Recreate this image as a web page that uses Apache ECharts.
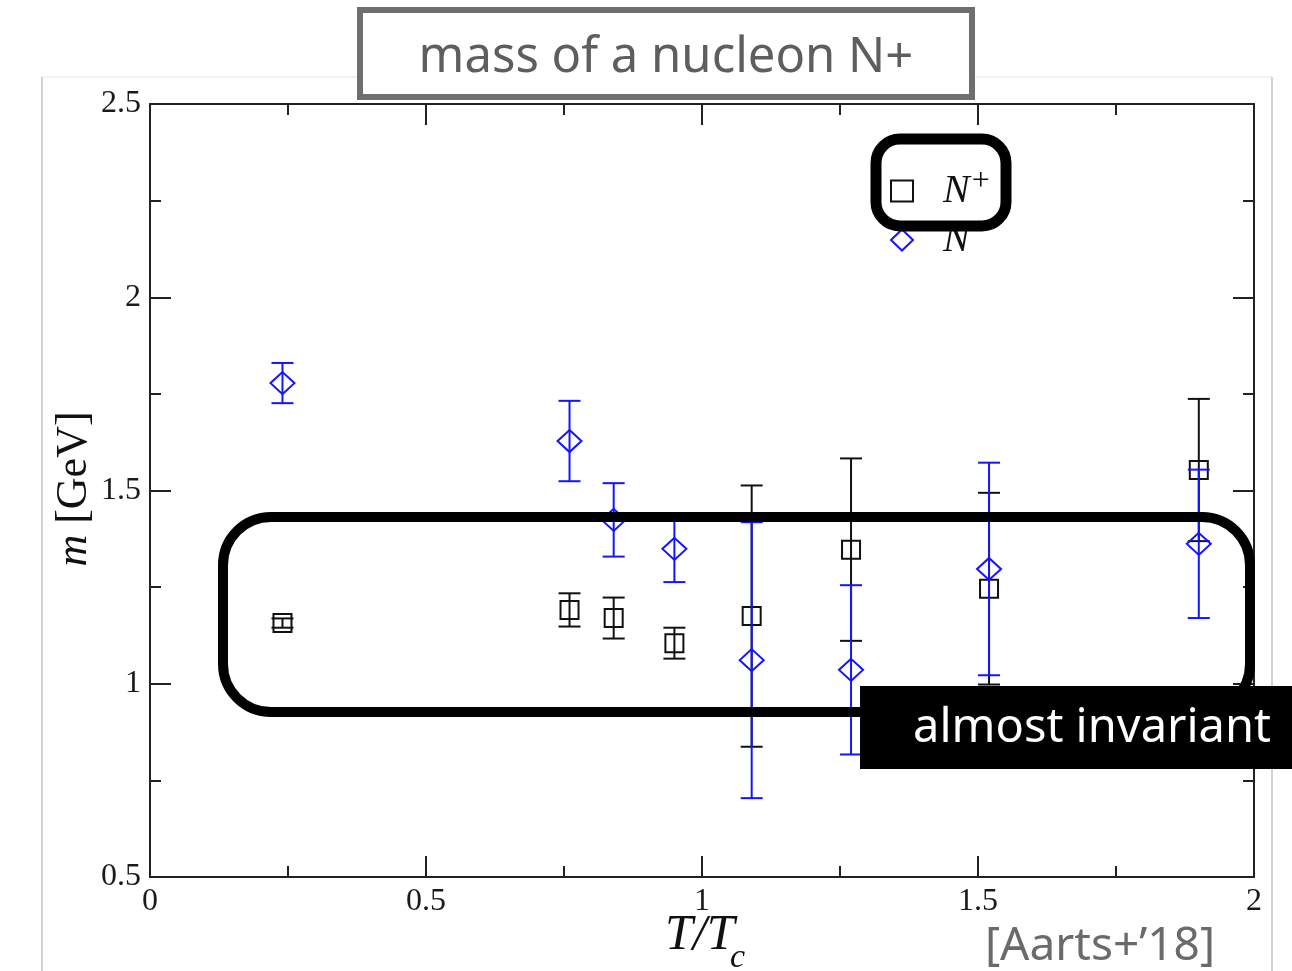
<!DOCTYPE html>
<html>
<head>
<meta charset="utf-8">
<script src="https://cdn.jsdelivr.net/npm/echarts@6/dist/echarts.min.js"></script>
<style>
  html, body { margin: 0; padding: 0; background: #fff; }
  #chart { width: 1292px; height: 971px; }
</style>
</head>
<body>
<div id="chart"></div>
<script>
// T/Tc of each lattice point
var temps = [0.24, 0.76, 0.84, 0.95, 1.09, 1.27, 1.52, 1.90];
// N+ (positive parity) mass and error, GeV
var plusMass = [1.157, 1.191, 1.170, 1.105, 1.175, 1.347, 1.246, 1.553];
var plusErr = [0.012, 0.043, 0.053, 0.040, 0.338, 0.236, 0.248, 0.184];
// N- (negative parity) mass and error, GeV
var minusMass = [1.778, 1.628, 1.424, 1.349, 1.061, 1.036, 1.297, 1.362];
var minusErr = [0.052, 0.104, 0.095, 0.086, 0.357, 0.219, 0.275, 0.192];

var BLUE = '#1414ff';
var SERIF = '"Liberation Serif", "DejaVu Serif", serif';
var SANS = '"Noto Sans", "Open Sans", sans-serif';

function points(mass) {
    return temps.map(function (t, i) { return [t, mass[i]]; });
}
function bars(mass, err) {
    return temps.map(function (t, i) { return [t, mass[i] - err[i], mass[i] + err[i]]; });
}

function errorBar(color) {
    return function (params, api) {
        var x = api.value(0);
        var top = api.coord([x, api.value(2)]);
        var bot = api.coord([x, api.value(1)]);
        var hw = 11;
        var st = { stroke: color, lineWidth: 2 };
        return {
            type: 'group',
            children: [
                { type: 'line', shape: { x1: top[0], y1: top[1], x2: bot[0], y2: bot[1] }, style: st },
                { type: 'line', shape: { x1: top[0] - hw, y1: top[1], x2: top[0] + hw, y2: top[1] }, style: st },
                { type: 'line', shape: { x1: bot[0] - hw, y1: bot[1], x2: bot[0] + hw, y2: bot[1] }, style: st }
            ]
        };
    };
}

function axis(pos, min, max, showLabel) {
    return {
        type: 'value',
        position: pos,
        min: min,
        max: max,
        interval: 0.5,
        splitLine: { show: false },
        axisLine: { show: true, onZero: false, lineStyle: { color: '#222', width: 2 } },
        axisTick: { show: true, inside: true, length: 21, lineStyle: { color: '#222', width: 2 } },
        minorTick: { show: true, splitNumber: 2, length: 11, lineStyle: { color: '#222', width: 2 } },
        axisLabel: {
            show: showLabel,
            margin: 9,
            color: '#1a1a1a',
            fontFamily: SERIF,
            fontSize: 32
        }
    };
}

var myChart = echarts.init(document.getElementById('chart'));

var option = {
    animation: false,
    backgroundColor: '#fff',
    grid: { left: 150, right: 38, top: 104, bottom: 94 },
    xAxis: [axis('bottom', 0, 2, true), axis('top', 0, 2, false)],
    yAxis: [axis('left', 0.5, 2.5, true), axis('right', 0.5, 2.5, false)],
    legend: {
        data: ['N+', 'N-'],
        orient: 'vertical',
        left: 885,
        top: 161,
        itemGap: 4,
        itemWidth: 22,
        itemHeight: 21,
        formatter: function (name) {
            return '{n|N}{s|' + (name === 'N+' ? '+' : '\u2212') + '}';
        },
        textStyle: {
            rich: {
                n: { fontFamily: SERIF, fontStyle: 'italic', fontSize: 40, color: '#111', padding: [0, 0, 0, 25] },
                s: { fontFamily: SERIF, fontSize: 32, color: '#111', padding: [0, 0, 18, 2] }
            }
        }
    },
    series: [
        {
            name: 'N+ err',
            type: 'custom',
            renderItem: errorBar('#111'),
            data: bars(plusMass, plusErr),
            z: 2
        },
        {
            name: 'N+',
            type: 'scatter',
            symbol: 'rect',
            symbolSize: 18,
            itemStyle: { color: 'rgba(0,0,0,0)', borderColor: '#111', borderWidth: 2, opacity: 1 },
            data: points(plusMass),
            z: 3
        },
        {
            name: 'N- err',
            type: 'custom',
            renderItem: errorBar(BLUE),
            data: bars(minusMass, minusErr),
            z: 4
        },
        {
            name: 'N-',
            type: 'scatter',
            symbol: 'diamond',
            symbolSize: [24, 22],
            itemStyle: { color: 'rgba(0,0,0,0)', borderColor: BLUE, borderWidth: 2, opacity: 1 },
            data: points(minusMass),
            z: 5
        }
    ],
    graphic: [
        // outer frame of the pasted figure
        { type: 'line', z: 50, shape: { x1: 42, y1: 77, x2: 1272, y2: 77 }, style: { stroke: '#eeeeee', lineWidth: 1.5 } },
        { type: 'line', z: 50, shape: { x1: 42, y1: 77, x2: 42, y2: 971 }, style: { stroke: '#c4c4c4', lineWidth: 1.5 } },
        { type: 'line', z: 50, shape: { x1: 1272, y1: 77, x2: 1272, y2: 971 }, style: { stroke: '#c4c4c4', lineWidth: 1.5 } },
        // title box
        { type: 'rect', z: 60, shape: { x: 360, y: 10, width: 612, height: 87 },
          style: { fill: '#fff', stroke: '#6e6e6e', lineWidth: 6 } },
        { type: 'text', z: 61, x: 666, y: 58,
          style: { text: 'mass of a nucleon N+', fill: '#5e5e5e', fontFamily: SANS, fontSize: 49,
                   align: 'center', verticalAlign: 'middle' } },
        // axis titles
        { type: 'text', z: 61, x: 74, y: 489, rotation: Math.PI / 2,
          style: { text: '{i|m} [GeV]', fill: '#111', fontFamily: SERIF, fontSize: 44,
                   align: 'center', verticalAlign: 'middle',
                   rich: { i: { fontFamily: SERIF, fontStyle: 'italic', fontSize: 44, fill: '#111' } } } },
        { type: 'text', z: 61, x: 665, y: 936,
          style: { text: 'T/T', fill: '#111', fontFamily: SERIF, fontStyle: 'italic', fontSize: 50,
                   align: 'left', verticalAlign: 'middle' } },
        { type: 'text', z: 61, x: 730, y: 958,
          style: { text: 'c', fill: '#111', fontFamily: SERIF, fontStyle: 'italic', fontSize: 34,
                   align: 'left', verticalAlign: 'middle' } },
        // legend highlight
        { type: 'rect', z: 70, shape: { x: 876, y: 139, width: 130, height: 87, r: 24 },
          style: { fill: 'none', stroke: '#000', lineWidth: 11 } },
        // "almost invariant" highlight
        { type: 'rect', z: 70, shape: { x: 223, y: 517, width: 1027, height: 195, r: 48 },
          style: { fill: 'none', stroke: '#000', lineWidth: 10 } },
        { type: 'rect', z: 80, shape: { x: 860, y: 686, width: 440, height: 83 },
          style: { fill: '#000' } },
        { type: 'text', z: 81, x: 1092, y: 729,
          style: { text: 'almost invariant', fill: '#fff', fontFamily: SANS, fontSize: 47,
                   align: 'center', verticalAlign: 'middle' } },
        // citation
        { type: 'text', z: 61, x: 1100, y: 947,
          style: { text: '[Aarts+\u201918]', fill: '#6a6a6a', fontFamily: SANS, fontSize: 46,
                   align: 'center', verticalAlign: 'middle' } }
    ]
};

myChart.setOption(option);
</script>
</body>
</html>
